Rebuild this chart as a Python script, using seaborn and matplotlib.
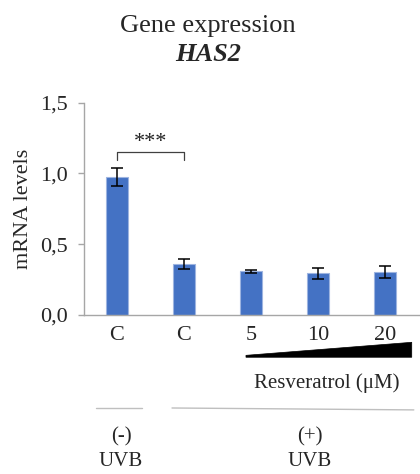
import numpy as np
import pandas as pd
import matplotlib
matplotlib.use("Agg")
import matplotlib.pyplot as plt
import matplotlib.transforms as mtransforms
from matplotlib.patches import Polygon
import seaborn as sns

# HAS2 mRNA levels (mean ± SD)
conditions = ["C (-UVB)", "C (+UVB)", "5", "10", "20"]
tick_labels = ["C", "C", "5", "10", "20"]
mrna_levels = [0.975, 0.358, 0.308, 0.294, 0.303]
mrna_errors = [0.063, 0.035, 0.012, 0.039, 0.045]
y_ticks = [0.0, 0.5, 1.0, 1.5]
y_tick_labels = ["0,0", "0,5", "1,0", "1,5"]

sns.set_style("white")
plt.rcParams["font.family"] = ["Liberation Serif", "DejaVu Serif"]

BLUE = "#4472C4"
GRAY = "#a6a6a6"

fig = plt.figure(figsize=(4.2, 4.74), dpi=100)
ax = fig.add_axes([83.5 / 420, 1 - 315 / 474, 335 / 420, (315 - 102.7) / 474])

df = pd.DataFrame({"condition": conditions, "level": mrna_levels})
sns.barplot(data=df, x="condition", y="level", order=conditions, color=BLUE,
            saturation=1, width=0.315, errorbar=None, ax=ax,
            edgecolor="#9db4e0", linewidth=0.8)

centers = [p.get_x() + p.get_width() / 2 for p in ax.patches]
ax.errorbar(centers, mrna_levels, yerr=mrna_errors, fmt="none", ecolor="black",
            elinewidth=1.1, capsize=4.5, capthick=1.1, zorder=5)

ax.set_xlim(-0.5, 4.5)
ax.set_ylim(0, 1.5)
ax.set_yticks(y_ticks)
ax.set_yticklabels(y_tick_labels)
ax.set_xticks(range(len(tick_labels)))
ax.set_xticklabels(tick_labels)
ax.set_xlabel("")
ax.set_ylabel("mRNA levels", fontsize=16, va="center")
ax.yaxis.set_label_coords(-0.18, 0.5)

ax.tick_params(axis="y", which="both", left=True, length=4.3, width=1.0,
               color=GRAY, labelsize=16, pad=7)
ax.tick_params(axis="x", length=0, labelsize=16, pad=8)

for side in ["top", "right"]:
    ax.spines[side].set_visible(False)
for side in ["left", "bottom"]:
    ax.spines[side].set_color(GRAY)
    ax.spines[side].set_linewidth(1.0)

# Significance bracket between the two controls
y_br, y_leg = 1.154, 1.095
ax.plot([centers[0], centers[0], centers[1], centers[1]],
        [y_leg, y_br, y_br, y_leg], color="#404040", lw=0.9, clip_on=False)
ax.text((centers[0] + centers[1]) / 2, 1.19, "***", ha="center",
        va="baseline", fontsize=16, color="#222222")

# Dose wedge below the resveratrol bars
trans = mtransforms.blended_transform_factory(ax.transData, ax.transAxes)
wedge = Polygon([[1.925, -0.199], [4.399, -0.199], [4.399, -0.1286],
                 [1.925, -0.190]], closed=True, facecolor="black",
                edgecolor="black", lw=0.5, transform=trans, clip_on=False)
ax.add_patch(wedge)
ax.text(3.134, -0.32, "Resveratrol (μM)", transform=trans, ha="center",
        va="center", fontsize=15)

# UVB group lines and labels
ax.plot([-0.313, 0.373], [-0.438, -0.438], color="#bfbfbf", lw=1.0,
        transform=trans, clip_on=False)
ax.plot([0.821, 4.43], [-0.438, -0.447], color="#bfbfbf", lw=1.0,
        transform=trans, clip_on=False)
ax.text(0.06, -0.575, "(-)", transform=trans, ha="center", va="center", fontsize=15)
ax.text(0.06, -0.692, "UVB", transform=trans, ha="center", va="center", fontsize=15)
ax.text(2.88, -0.575, "(+)", transform=trans, ha="center", va="center", fontsize=15)
ax.text(2.88, -0.692, "UVB", transform=trans, ha="center", va="center", fontsize=15)

# Title
fig.text(208 / 420, 1 - 32 / 474, "Gene expression", ha="center",
         va="baseline", fontsize=19)
fig.text(208 / 420, 1 - 61 / 474, "HAS2", ha="center", va="baseline",
         fontsize=19, fontweight="bold", fontstyle="italic")

fig.savefig("out.png", dpi=100)
